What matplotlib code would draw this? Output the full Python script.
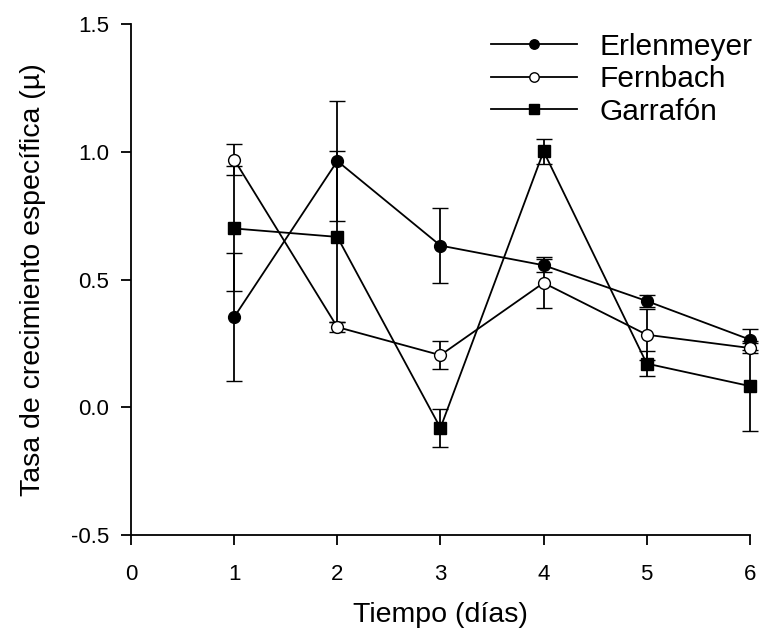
import matplotlib
matplotlib.use('Agg')
import matplotlib.pyplot as plt

plt.rcParams['font.family'] = ['Liberation Sans', 'DejaVu Sans']

dias = [1, 2, 3, 4, 5, 6]

erlen = [0.353, 0.964, 0.633, 0.556, 0.416, 0.265]
erlen_err = [0.25, 0.235, 0.147, 0.025, 0.025, 0.04]

fern = [0.970, 0.314, 0.204, 0.487, 0.284, 0.232]
fern_err = [0.06, 0.02, 0.054, 0.10, 0.10, 0.02]

garr = [0.700, 0.667, -0.081, 1.002, 0.171, 0.083]
garr_err = [0.245, 0.335, 0.075, 0.05, 0.05, 0.175]

fig = plt.figure(figsize=(7.59, 6.35), dpi=100)
ax = fig.add_axes([0.1726, 0.1575, 0.8154, 0.8045])

kw = dict(color='k', lw=1.3, elinewidth=1.3, capsize=6, capthick=1.3,
          markersize=8.5, markeredgecolor='k', markeredgewidth=1.0, clip_on=False)
ax.errorbar(dias, erlen, yerr=erlen_err, marker='o', markerfacecolor='k',
            label='Erlenmeyer', **kw)
ax.errorbar(dias, fern, yerr=fern_err, marker='o', markerfacecolor='white',
            label='Fernbach', **kw)
ax.errorbar(dias, garr, yerr=garr_err, marker='s', markerfacecolor='k',
            label='Garrafón', **kw)

ax.set_xlim(0, 6)
ax.set_ylim(-0.5, 1.5)
ax.set_xticks([0, 1, 2, 3, 4, 5, 6])
ax.set_yticks([-0.5, 0.0, 0.5, 1.0, 1.5])
ax.set_yticklabels(['-0.5', '0.0', '0.5', '1.0', '1.5'])
ax.spines['top'].set_visible(False)
ax.spines['right'].set_visible(False)
for s in ['left', 'bottom']:
    ax.spines[s].set_linewidth(1.3)
ax.tick_params(direction='out', length=7, width=1.3, labelsize=16)
ax.tick_params(axis='x', pad=14)
ax.tick_params(axis='y', pad=9)

ax.set_xlabel('Tiempo (días)', fontsize=20.5, labelpad=12)
ax.set_ylabel('Tasa de crecimiento específica (µ)', fontsize=20.5, labelpad=18)

handles, labels = ax.get_legend_handles_labels()
handles = [h[0] for h in handles]
leg = ax.legend(handles, labels, loc='upper right', bbox_to_anchor=(1.048, 1.036),
                frameon=False, fontsize=21.5, handlelength=2.9, handletextpad=0.75,
                labelspacing=0.15, markerscale=0.8)

fig.savefig('out.png', dpi=100)
